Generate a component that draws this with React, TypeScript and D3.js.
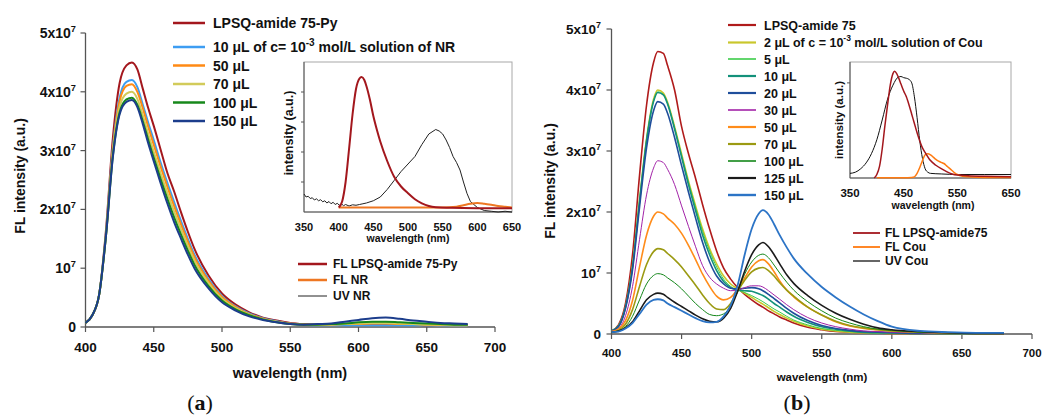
import React from 'react';
import * as d3 from 'd3';

// ---------------- Panel (a) data (values in units of 10^7) ----------------
const WL_A = [400,405,410,415,420,425,430,434,438,442,446,450,455,460,465,470,475,480,490,500,510,520,530,540,550,560,570,580,590,600,610,620,630,640,650,660,670,680];
const A_LPSQ = [0.07,0.2,0.55,1.65,3.2,4.15,4.45,4.5,4.38,4.05,3.72,3.42,3.02,2.62,2.3,1.95,1.62,1.32,0.88,0.57,0.38,0.25,0.16,0.11,0.07,0.05,0.04,0.04,0.04,0.04,0.04,0.04,0.04,0.04,0.03,0.03,0.03,0.03];
const A_10 = [0.07,0.2,0.55,1.6,3.05,3.9,4.17,4.2,4.08,3.78,3.47,3.18,2.8,2.45,2.12,1.8,1.5,1.22,0.82,0.53,0.35,0.23,0.15,0.1,0.06,0.04,0.03,0.03,0.03,0.03,0.03,0.03,0.03,0.03,0.03,0.02,0.02,0.02];
const A_50 = [0.07,0.2,0.55,1.58,3.0,3.84,4.1,4.13,4.0,3.72,3.4,3.1,2.73,2.38,2.05,1.74,1.45,1.18,0.79,0.51,0.34,0.22,0.14,0.09,0.06,0.04,0.04,0.04,0.05,0.05,0.06,0.06,0.05,0.05,0.04,0.03,0.03,0.03];
const A_70 = [0.07,0.2,0.55,1.55,2.95,3.75,3.97,4.0,3.88,3.6,3.28,2.98,2.62,2.28,1.96,1.66,1.38,1.12,0.75,0.48,0.32,0.21,0.13,0.09,0.05,0.04,0.04,0.04,0.05,0.06,0.07,0.07,0.06,0.05,0.04,0.04,0.03,0.03];
const A_100 = [0.07,0.2,0.55,1.55,2.9,3.65,3.87,3.9,3.78,3.5,3.18,2.88,2.52,2.18,1.86,1.57,1.3,1.05,0.7,0.45,0.3,0.2,0.13,0.08,0.05,0.04,0.04,0.05,0.06,0.08,0.09,0.09,0.08,0.07,0.06,0.05,0.04,0.04];
const A_150 = [0.07,0.2,0.55,1.55,2.88,3.62,3.83,3.86,3.74,3.45,3.12,2.82,2.45,2.1,1.78,1.5,1.23,0.99,0.66,0.42,0.28,0.18,0.12,0.08,0.05,0.04,0.05,0.06,0.09,0.12,0.15,0.16,0.14,0.11,0.09,0.07,0.06,0.05];
const NAMES_A = ['LPSQ-amide 75-Py', '10 μL of c= 10^-3 mol/L solution of NR', '50 μL', '70 μL', '100 μL', '150 μL'];
const COLORS_A = ['#a3171d', '#3d9df2', '#ff8a14', '#d2cb5a', '#17881b', '#1c3d8c'];

// inset (a), normalised intensity
const IA_RED_W = [400,405,410,415,420,425,430,433,437,440,445,450,455,460,470,480,490,500,510,520,530,540,560,600,650];
const IA_RED = [0.03,0.07,0.2,0.42,0.65,0.82,0.89,0.9,0.88,0.84,0.75,0.64,0.55,0.47,0.34,0.235,0.17,0.125,0.085,0.058,0.04,0.032,0.028,0.025,0.025];
const IA_ORANGE_W = [400,450,500,550,570,580,590,600,610,620,630,640,650];
const IA_ORANGE = [0.03,0.03,0.03,0.03,0.035,0.045,0.055,0.06,0.055,0.048,0.04,0.035,0.03];
const IA_BLACK_W = [350,353,356,359,362,365,368,371,374,377,380,383,386,389,392,395,398,401,404,407,410,415,420,425,430,435,440,450,460,470,480,490,500,510,520,530,540,545,550,555,560,565,570,575,580,585,590,600,610,620,630,640,650];
const IA_BLACK = [0.12,0.1,0.105,0.09,0.095,0.08,0.088,0.075,0.082,0.068,0.075,0.06,0.07,0.055,0.065,0.05,0.058,0.045,0.055,0.042,0.05,0.04,0.048,0.045,0.05,0.055,0.06,0.075,0.1,0.15,0.21,0.27,0.32,0.37,0.45,0.52,0.55,0.54,0.52,0.48,0.43,0.37,0.33,0.28,0.2,0.125,0.07,0.03,0.01,0.005,0.0,0.005,0.0];
const INSET_NAMES_A = ['FL LPSQ-amide 75-Py', 'FL NR', 'UV NR'];

// ---------------- Panel (b) data (values in units of 10^7) ----------------
const WL_B = [400,405,410,415,420,425,430,433,437,440,445,450,455,460,465,470,475,480,485,490,495,500,505,508,512,516,520,525,530,540,550,560,570,580,590,600,620,640,660,680];
const B_LPSQ = [0.05,0.15,0.5,1.3,2.6,3.75,4.45,4.63,4.6,4.4, 4.0,3.4,2.95,2.55,2.12,1.72,1.36,1.08,0.9,0.76, 0.65,0.56,0.48,0.44,0.38,0.33,0.28,0.23,0.18,0.11, 0.07,0.04,0.03,0.02,0.015,0.01,0.01,0.005,0.005,0.005];
const B_2 = [0.05,0.13,0.44,1.12,2.2,3.2,3.85,4.0,3.95,3.8, 3.4,2.95,2.5,2.1,1.72,1.4,1.15,0.95,0.82,0.74, 0.67,0.6,0.53,0.49,0.43,0.37,0.32,0.26,0.21,0.13, 0.08,0.05,0.03,0.02,0.015,0.01,0.01,0.005,0.005,0.005];
const B_5 = [0.05,0.13,0.44,1.1,2.18,3.18,3.82,3.97,3.93,3.78, 3.38,2.93,2.48,2.07,1.68,1.36,1.1,0.9,0.78,0.72, 0.68,0.63,0.57,0.53,0.47,0.41,0.36,0.29,0.23,0.15, 0.09,0.06,0.04,0.02,0.015,0.01,0.01,0.005,0.005,0.005];
const B_10 = [0.05,0.13,0.44,1.1,2.17,3.17,3.81,3.96,3.92,3.77, 3.36,2.9,2.44,2.02,1.62,1.3,1.04,0.86,0.76,0.72, 0.71,0.7,0.66,0.63,0.57,0.5,0.44,0.36,0.29,0.19, 0.12,0.08,0.05,0.03,0.02,0.02,0.01,0.01,0.005,0.005];
const B_20 = [0.05,0.12,0.42,1.05,2.08,3.05,3.66,3.81,3.77,3.62, 3.22,2.76,2.32,1.9,1.5,1.18,0.95,0.82,0.75,0.74, 0.75,0.76,0.74,0.71,0.65,0.58,0.51,0.42,0.34,0.22, 0.14,0.09,0.06,0.04,0.03,0.02,0.01,0.01,0.005,0.005];
const B_30 = [0.04,0.09,0.3,0.78,1.55,2.28,2.72,2.84,2.81,2.7, 2.45,2.1,1.76,1.43,1.12,0.93,0.82,0.75,0.71,0.72, 0.76,0.79,0.79,0.77,0.71,0.64,0.57,0.48,0.4,0.27, 0.18,0.12,0.08,0.05,0.04,0.03,0.02,0.01,0.01,0.005];
const B_50 = [0.04,0.08,0.22,0.55,1.1,1.62,1.93,2.0,1.97,1.9, 1.8,1.65,1.45,1.22,0.98,0.78,0.62,0.56,0.6,0.74, 0.92,1.1,1.2,1.22,1.15,1.02,0.87,0.72,0.61,0.44, 0.31,0.2,0.13,0.09,0.07,0.05,0.03,0.02,0.01,0.01];
const B_70 = [0.03,0.06,0.16,0.4,0.78,1.14,1.35,1.4,1.38,1.32, 1.22,1.1,0.95,0.8,0.64,0.5,0.41,0.4,0.5,0.7, 0.88,1.02,1.08,1.09,1.04,0.95,0.84,0.72,0.62,0.44, 0.31,0.21,0.14,0.1,0.07,0.05,0.03,0.02,0.01,0.01];
const B_100 = [0.03,0.05,0.12,0.29,0.56,0.82,0.96,0.99,0.97,0.92, 0.84,0.74,0.62,0.5,0.4,0.32,0.3,0.33,0.46,0.7, 0.98,1.18,1.29,1.31,1.25,1.13,1.0,0.85,0.72,0.53, 0.38,0.26,0.18,0.12,0.08,0.06,0.03,0.02,0.01,0.01];
const B_125 = [0.03,0.05,0.1,0.2,0.38,0.56,0.65,0.67,0.65,0.6, 0.52,0.45,0.38,0.31,0.25,0.21,0.2,0.26,0.42,0.7, 1.03,1.3,1.46,1.5,1.43,1.3,1.15,0.97,0.83,0.63, 0.47,0.34,0.24,0.16,0.1,0.07,0.04,0.02,0.01,0.01];
const B_150 = [0.03,0.04,0.09,0.18,0.33,0.48,0.56,0.57,0.55,0.5, 0.44,0.38,0.32,0.26,0.21,0.19,0.2,0.29,0.47,0.8, 1.3,1.72,1.97,2.03,1.96,1.8,1.62,1.42,1.24,0.98, 0.77,0.6,0.45,0.32,0.21,0.12,0.05,0.03,0.02,0.02];
const NAMES_B = ['LPSQ-amide 75', '2 μL of c = 10^-3 mol/L solution of Cou', '5 μL', '10 μL', '20 μL', '30 μL', '50 μL', '70 μL', '100 μL', '125 μL', '150 μL'];
const COLORS_B = ['#b01b1b', '#c9c72c', '#3ccc48', '#13917a', '#1f4e9b', '#a323a8', '#ff8c1a', '#9b9a12', '#14871a', '#1b1b1b', '#2c74c6'];
const WIDTHS_B = [1.6, 1.6, 1, 1.6, 1.6, 1, 1.6, 1.6, 1, 1.6, 1.8];

// inset (b)
const IB_RED_W = [395,400,405,410,415,420,425,430,433,437,440,445,450,455,460,465,470,475,480,485,490,500,510,520,530,540,550,570,600,650];
const IB_RED = [0,0.03,0.1,0.25,0.45,0.63,0.8,0.9,0.92,0.9,0.87,0.81,0.75,0.7,0.63,0.55,0.47,0.39,0.32,0.26,0.22,0.15,0.11,0.08,0.055,0.035,0.025,0.02,0.015,0.01];
const IB_BLACK_W = [350,360,370,380,390,400,410,420,430,440,445,450,455,460,465,470,475,480,485,490,495,500,520,550,600,650];
const IB_BLACK = [0.04,0.05,0.08,0.13,0.21,0.33,0.5,0.68,0.8,0.87,0.875,0.865,0.86,0.85,0.82,0.7,0.52,0.32,0.17,0.08,0.05,0.04,0.035,0.03,0.03,0.03];
const IB_ORANGE_W = [400,450,465,470,475,480,485,490,495,500,505,510,515,520,525,530,535,540,545,550,560,570,600,650];
const IB_ORANGE = [0.003,0.003,0.005,0.01,0.04,0.09,0.15,0.2,0.21,0.2,0.18,0.16,0.145,0.135,0.125,0.105,0.085,0.065,0.045,0.03,0.015,0.01,0.005,0.005];
const INSET_NAMES_B = ['FL LPSQ-amide75', 'FL Cou', 'UV Cou'];

// ticks
const X_TICKS = [400, 450, 500, 550, 600, 650, 700];
const Y_TICKS = [0, 1, 2, 3, 4, 5];
const INSET_TICKS_A = [350, 400, 450, 500, 550, 600, 650];
const INSET_TICKS_B = [350, 450, 550, 650];
const INSET_YTICKS_A = [0.2, 0.4, 0.6, 0.8];
const INSET_YTICKS_B = [0.82];

const FONT = "'Liberation Sans', Arial, sans-serif";

function Rich({ text, sup }: { text: string; sup: number }) {
  const m = text.match(/^(.*?)\^(\S+)(.*)$/);
  if (!m) return <>{text}</>;
  return (
    <>
      {m[1]}
      <tspan dy={-6} fontSize={sup}>{m[2]}</tspan>
      <tspan dy={6}>{m[3] || ''}</tspan>
    </>
  );
}

function yTickText(v: number) {
  if (v === 0) return '0';
  if (v === 1) return '10^7';
  return `${v}x10^7`;
}

function path(xs: number[], ys: number[], x: any, y: any, curve: any) {
  const pts = xs.map((w, i) => [w, ys[i]] as [number, number]);
  return d3.line<[number, number]>().x(d => x(d[0])).y(d => y(d[1])).curve(curve)(pts) || '';
}

function MainAxes({ x, y, tickFont, yFont, labelEnd, xLabelY }: any) {
  const [x0, x1] = x.range();
  const y0 = y(0);
  return (
    <g fontFamily={FONT} fontWeight="bold" fill="#111">
      <line x1={x0} x2={x1} y1={y0} y2={y0} stroke="#555" strokeWidth={1.3} />
      <line x1={x0} x2={x0} y1={y(0)} y2={y(5)} stroke="#555" strokeWidth={1.3} />
      {Y_TICKS.map(v => (
        <g key={'y' + v}>
          <line x1={x0 - 5} x2={x0} y1={y(v)} y2={y(v)} stroke="#555" strokeWidth={1.2} />
          <text x={labelEnd} y={y(v) + yFont * 0.36} fontSize={yFont} textAnchor="end">
            <Rich text={yTickText(v)} sup={yFont * 0.66} />
          </text>
        </g>
      ))}
      {X_TICKS.map(v => (
        <g key={'x' + v}>
          <line x1={x(v)} x2={x(v)} y1={y0} y2={y0 + 5} stroke="#555" strokeWidth={1.2} />
          <text x={x(v)} y={xLabelY} fontSize={tickFont} textAnchor="middle">{v}</text>
        </g>
      ))}
    </g>
  );
}

function Inset({ x, y, ticks, yticks, tickFont, tickY, title, titleFont, titleX, titleY, ylab, ylabFont, ylabX, ylabY }: any) {
  const [x0, x1] = x.range();
  const [yb, yt] = y.range();
  return (
    <g fontFamily={FONT} fontWeight="bold" fill="#111">
      <rect x={x0} y={yt} width={x1 - x0} height={yb - yt} fill="white" stroke="#a8a8a8" strokeWidth={1} />
      <line x1={x0} x2={x1} y1={yb} y2={yb} stroke="#555" strokeWidth={1} />
      <line x1={x0} x2={x0} y1={yb} y2={yt} stroke="#555" strokeWidth={1} />
      {yticks.map((v: number) => (
        <line key={v} x1={x0 - 3} x2={x0} y1={y(v)} y2={y(v)} stroke="#555" strokeWidth={1} />
      ))}
      {ticks.map((v: number) => (
        <text key={v} x={x(v)} y={tickY} fontSize={tickFont} textAnchor="middle">{v}</text>
      ))}
      <text x={titleX} y={titleY} fontSize={titleFont} textAnchor="middle">{title}</text>
      <text transform={`translate(${ylabX},${ylabY}) rotate(-90)`} fontSize={ylabFont} textAnchor="middle" dominantBaseline="central">{ylab}</text>
    </g>
  );
}

export default function App() {
  // ---- panel (a) scales
  const xA = d3.scaleLinear().domain([400, 700]).range([85.5, 495]);
  const yA = d3.scaleLinear().domain([0, 5]).range([327, 33]);
  const xIA = d3.scaleLinear().domain([350, 650]).range([304, 512]);
  const yIA = d3.scaleLinear().domain([0, 1]).range([212, 62]);
  // ---- panel (b) scales
  const xB = d3.scaleLinear().domain([400, 700]).range([611.5, 1032]);
  const yB = d3.scaleLinear().domain([0, 5]).range([334, 29]);
  const xIB = d3.scaleLinear().domain([350, 650]).range([850, 1011]);
  const yIB = d3.scaleLinear().domain([0, 1]).range([178, 62]);

  const seriesA = [A_LPSQ, A_10, A_50, A_70, A_100, A_150];
  const seriesB = [B_LPSQ, B_2, B_5, B_10, B_20, B_30, B_50, B_70, B_100, B_125, B_150];
  const smooth = d3.curveMonotoneX;

  const insetLegA = [
    { name: INSET_NAMES_A[0], color: '#a3171d', w: 2.5 },
    { name: INSET_NAMES_A[1], color: '#ee7722', w: 2.5 },
    { name: INSET_NAMES_A[2], color: '#222', w: 1 },
  ];
  const insetLegB = [
    { name: INSET_NAMES_B[0], color: '#a3171d', w: 1.8 },
    { name: INSET_NAMES_B[1], color: '#ff7a10', w: 1.8 },
    { name: INSET_NAMES_B[2], color: '#555', w: 1.8 },
  ];

  return (
    <svg width={1048} height={416} viewBox="0 0 1048 416" style={{ position: 'absolute', left: 0, top: 0, background: '#fff' }}>
      <rect x={0} y={0} width={1048} height={416} fill="#fff" />

      {/* ================= Panel (a) ================= */}
      <MainAxes x={xA} y={yA} tickFont={13.5} yFont={14} labelEnd={76} xLabelY={352} />
      <text x={290} y={378} fontFamily={FONT} fontWeight="bold" fontSize={14.5} textAnchor="middle" fill="#111">wavelength (nm)</text>
      <text transform="translate(20,176) rotate(-90)" fontFamily={FONT} fontWeight="bold" fontSize={14} textAnchor="middle" dominantBaseline="central" fill="#111">FL intensity (a.u.)</text>
      {seriesA.map((s, i) => (
        <path key={'a' + i} d={path(WL_A, s, xA, yA, smooth)} fill="none" stroke={COLORS_A[i]} strokeWidth={2} />
      ))}
      {/* legend (a) */}
      <g fontFamily={FONT} fontWeight="bold" fontSize={14} fill="#111">
        {NAMES_A.map((n, i) => {
          const cy = i === 0 ? 23 : 47 + (i - 1) * 18.5;
          return (
            <g key={'la' + i}>
              <line x1={173} x2={205} y1={cy} y2={cy} stroke={COLORS_A[i]} strokeWidth={2.5} />
              <text x={213} y={cy + 5}><Rich text={n} sup={10} /></text>
            </g>
          );
        })}
      </g>
      {/* inset (a) */}
      <Inset x={xIA} y={yIA} ticks={INSET_TICKS_A} yticks={INSET_YTICKS_A} tickFont={11} tickY={231}
        title="wavelength (nm)" titleFont={10.5} titleX={408} titleY={242}
        ylab="intensity (a.u.)" ylabFont={12.5} ylabX={289} ylabY={133} />
      <path d={path(IA_BLACK_W, IA_BLACK, xIA, yIA, d3.curveLinear)} fill="none" stroke="#222" strokeWidth={1} />
      <path d={path(IA_ORANGE_W, IA_ORANGE, xIA, yIA, smooth)} fill="none" stroke="#ee7722" strokeWidth={2} />
      <path d={path(IA_RED_W, IA_RED, xIA, yIA, smooth)} fill="none" stroke="#a3171d" strokeWidth={2} />
      <g fontFamily={FONT} fontWeight="bold" fontSize={12} fill="#111">
        {insetLegA.map((l, i) => {
          const cy = 264 + i * 16;
          return (
            <g key={'lia' + i}>
              <line x1={298} x2={327} y1={cy} y2={cy} stroke={l.color} strokeWidth={l.w} />
              <text x={333} y={cy + 4.3}>{l.name}</text>
            </g>
          );
        })}
      </g>
      <text x={200} y={410} fontFamily="'Liberation Serif', 'DejaVu Serif', serif" fontSize={22} textAnchor="middle" fill="#111">(<tspan fontWeight="bold">a</tspan>)</text>

      {/* ================= Panel (b) ================= */}
      <MainAxes x={xB} y={yB} tickFont={11.5} yFont={13.5} labelEnd={601} xLabelY={357} />
      <text x={822} y={381} fontFamily={FONT} fontWeight="bold" fontSize={11.5} textAnchor="middle" fill="#111">wavelength (nm)</text>
      <text transform="translate(550,181) rotate(-90)" fontFamily={FONT} fontWeight="bold" fontSize={14} textAnchor="middle" dominantBaseline="central" fill="#111">FL intensity (a.u.)</text>
      {seriesB.map((s, i) => (
        <path key={'b' + i} d={path(WL_B, s, xB, yB, smooth)} fill="none" stroke={COLORS_B[i]} strokeWidth={WIDTHS_B[i]} />
      ))}
      {/* legend (b) */}
      <g fontFamily={FONT} fontWeight="bold" fontSize={12.5} fill="#111">
        {NAMES_B.map((n, i) => {
          const cy = i === 0 ? 25 : i === 1 ? 42.5 : 59 + (i - 2) * 17;
          return (
            <g key={'lb' + i}>
              <line x1={728} x2={756} y1={cy} y2={cy} stroke={COLORS_B[i]} strokeWidth={WIDTHS_B[i] + 0.6} />
              <text x={764} y={cy + 4.5}><Rich text={n} sup={8.5} /></text>
            </g>
          );
        })}
      </g>
      {/* inset (b) */}
      <Inset x={xIB} y={yIB} ticks={INSET_TICKS_B} yticks={INSET_YTICKS_B} tickFont={11.5} tickY={197}
        title="wavelength (nm)" titleFont={10.5} titleX={933} titleY={209}
        ylab="intensity (a.u.)" ylabFont={11.5} ylabX={839} ylabY={120} />
      <path d={path(IB_BLACK_W, IB_BLACK, xIB, yIB, smooth)} fill="none" stroke="#111" strokeWidth={1} />
      <path d={path(IB_ORANGE_W, IB_ORANGE, xIB, yIB, smooth)} fill="none" stroke="#ff7a10" strokeWidth={1.5} />
      <path d={path(IB_RED_W, IB_RED, xIB, yIB, smooth)} fill="none" stroke="#a3171d" strokeWidth={1.5} />
      <g fontFamily={FONT} fontWeight="bold" fontSize={12} fill="#111">
        {insetLegB.map((l, i) => {
          const cy = 233 + i * 14;
          return (
            <g key={'lib' + i}>
              <line x1={853} x2={880} y1={cy} y2={cy} stroke={l.color} strokeWidth={l.w} />
              <text x={885} y={cy + 4.3}>{l.name}</text>
            </g>
          );
        })}
      </g>
      <text x={797} y={410} fontFamily="'Liberation Serif', 'DejaVu Serif', serif" fontSize={22} textAnchor="middle" fill="#111">(<tspan fontWeight="bold">b</tspan>)</text>
    </svg>
  );
}
